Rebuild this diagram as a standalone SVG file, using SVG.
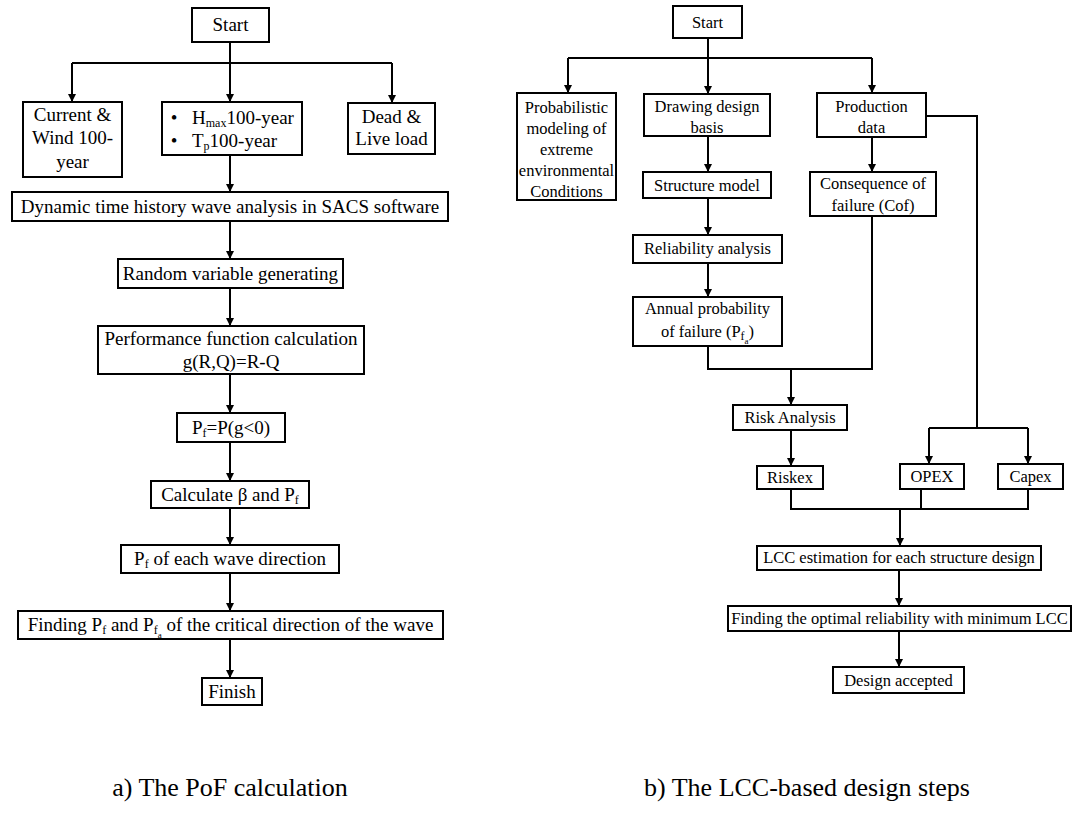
<svg xmlns="http://www.w3.org/2000/svg" width="1083" height="815" viewBox="0 0 1083 815">
<style>
.box{fill:#fff;stroke:#000;stroke-width:2}
.t{font-family:"Liberation Serif","Times New Roman",serif;font-size:19px;text-anchor:middle;fill:#000}
.r{font-size:16.5px}
.s{font-size:12px}
.ss{font-size:9px}
.cap{font-family:"Liberation Serif","Times New Roman",serif;font-size:26px;text-anchor:middle;fill:#000}
#connectors path{fill:none;stroke:#000;stroke-width:2}
</style>
<defs>
<marker id="ah" markerUnits="userSpaceOnUse" markerWidth="8" markerHeight="8" refX="8" refY="4" orient="auto">
<path d="M0,0 L8,4 L0,8 z" fill="#000"/>
</marker>
</defs>
<rect width="1083" height="815" fill="#fff"/>
<g id="connectors">
<path d="M230,42 V102" marker-end="url(#ah)"/>
<path d="M72,63 H392"/>
<path d="M72,63 V102" marker-end="url(#ah)"/>
<path d="M392,63 V103" marker-end="url(#ah)"/>
<path d="M230,155 V192" marker-end="url(#ah)"/>
<path d="M230,221 V259" marker-end="url(#ah)"/>
<path d="M230,288 V326" marker-end="url(#ah)"/>
<path d="M230,374 V413" marker-end="url(#ah)"/>
<path d="M230,442 V481" marker-end="url(#ah)"/>
<path d="M230,508 V545" marker-end="url(#ah)"/>
<path d="M230,573 V611" marker-end="url(#ah)"/>
<path d="M230,639 V678" marker-end="url(#ah)"/>
<path d="M708,38 V94" marker-end="url(#ah)"/>
<path d="M568,58 H872"/>
<path d="M568,58 V93" marker-end="url(#ah)"/>
<path d="M872,58 V93" marker-end="url(#ah)"/>
<path d="M708,136 V172" marker-end="url(#ah)"/>
<path d="M708,198 V235" marker-end="url(#ah)"/>
<path d="M708,263 V297" marker-end="url(#ah)"/>
<path d="M708,346 V369 H872 V216"/>
<path d="M791,369 V405" marker-end="url(#ah)"/>
<path d="M872,137 V172" marker-end="url(#ah)"/>
<path d="M926,116 H977 V428"/>
<path d="M929,428 H1028"/>
<path d="M929,428 V464" marker-end="url(#ah)"/>
<path d="M1028,428 V464" marker-end="url(#ah)"/>
<path d="M791,430 V466" marker-end="url(#ah)"/>
<path d="M791,489 V509 H1028 V489"/>
<path d="M921,489 V509"/>
<path d="M900,509 V546" marker-end="url(#ah)"/>
<path d="M899,570 V606" marker-end="url(#ah)"/>
<path d="M899,631 V667" marker-end="url(#ah)"/>
</g>

<g id="a_start"><rect class="box" x="192" y="8" width="77" height="34"/><text class="t" x="230.5" y="31">Start</text></g>
<g id="a_current"><rect class="box" x="23" y="102" width="99" height="75"/>
<text class="t" x="72.5" y="121">Current &amp;</text><text class="t" x="72.5" y="144">Wind 100-</text><text class="t" x="72.5" y="168">year</text></g>
<g id="a_hmax"><rect class="box" x="162" y="102" width="140" height="53"/>
<text class="t" x="174" y="124">•</text><text class="t" x="192" y="124" style="text-anchor:start">H<tspan class="s" dy="3">max</tspan><tspan dy="-3">100-year</tspan></text>
<text class="t" x="174" y="147">•</text><text class="t" x="192" y="147" style="text-anchor:start">T<tspan class="s" dy="3">p</tspan><tspan dy="-3">100-year</tspan></text></g>
<g id="a_dead"><rect class="box" x="348" y="103" width="87" height="51"/>
<text class="t" x="391.5" y="123">Dead &amp;</text><text class="t" x="391.5" y="145">Live load</text></g>
<g id="a_sacs"><rect class="box" x="12" y="192" width="436" height="29"/>
<text class="t" x="230" y="213">Dynamic time history wave analysis in SACS software</text></g>
<g id="a_random"><rect class="box" x="118" y="259" width="225" height="29"/>
<text class="t" x="230.5" y="280">Random variable generating</text></g>
<g id="a_perf"><rect class="box" x="98" y="326" width="266" height="48"/>
<text class="t" x="231" y="345">Performance function calculation</text><text class="t" x="231" y="368">g(R,Q)=R-Q</text></g>
<g id="a_pf"><rect class="box" x="177" y="413" width="108" height="29"/>
<text class="t" x="231" y="434">P<tspan class="s" dy="3">f</tspan><tspan dy="-3">=P(g&lt;0)</tspan></text></g>
<g id="a_calc"><rect class="box" x="151" y="481" width="158" height="27"/>
<text class="t" x="230" y="501">Calculate β and P<tspan class="s" dy="3">f</tspan></text></g>
<g id="a_each"><rect class="box" x="121" y="545" width="218" height="28"/>
<text class="t" x="230" y="565">P<tspan class="s" dy="3">f</tspan><tspan dy="-3"> of each wave direction</tspan></text></g>
<g id="a_finding"><rect class="box" x="18" y="611" width="425" height="28"/>
<text class="t" x="230.5" y="631">Finding P<tspan class="s" dy="3">f</tspan><tspan dy="-3"> and P</tspan><tspan class="s" dy="3">f</tspan><tspan class="ss" dy="4">a</tspan><tspan dy="-7">  of the critical direction of the wave</tspan></text></g>
<g id="a_finish"><rect class="box" x="202" y="678" width="60" height="27"/>
<text class="t" x="232" y="698">Finish</text></g>

<g id="b_start"><rect class="box" x="673" y="6" width="69" height="32"/><text class="t r" x="707.5" y="28">Start</text></g>
<g id="b_prob"><rect class="box" x="517" y="93" width="99" height="107"/>
<text class="t r" x="566.5" y="112.5">Probabilistic</text><text class="t r" x="566.5" y="133.5">modeling of</text><text class="t r" x="566.5" y="154.5">extreme</text><text class="t r" x="566.5" y="175.5">environmental</text><text class="t r" x="566.5" y="197">Conditions</text></g>
<g id="b_draw"><rect class="box" x="644" y="94" width="126" height="42"/>
<text class="t r" x="707" y="111.5">Drawing design</text><text class="t r" x="707" y="132.5">basis</text></g>
<g id="b_struct"><rect class="box" x="643" y="172" width="128" height="26"/>
<text class="t r" x="707" y="191">Structure model</text></g>
<g id="b_prod"><rect class="box" x="817" y="93" width="109" height="44"/>
<text class="t r" x="871.5" y="111.5">Production</text><text class="t r" x="871.5" y="132.5">data</text></g>
<g id="b_cof"><rect class="box" x="810" y="172" width="126" height="44"/>
<text class="t r" x="873" y="188.5">Consequence of</text><text class="t r" x="873" y="210.5">failure (Cof)</text></g>
<g id="b_rel"><rect class="box" x="633" y="235" width="149" height="28"/>
<text class="t r" x="707.5" y="254">Reliability analysis</text></g>
<g id="b_annual"><rect class="box" x="633" y="297" width="149" height="49"/>
<text class="t r" x="707.5" y="314">Annual probability</text><text class="t r" x="707.5" y="337">of failure (P<tspan class="s" dy="3">f</tspan><tspan class="ss" dy="4">a</tspan><tspan dy="-7">)</tspan></text></g>
<g id="b_risk"><rect class="box" x="733" y="405" width="114" height="25"/>
<text class="t r" x="790" y="423">Risk Analysis</text></g>
<g id="b_riskex"><rect class="box" x="757" y="466" width="66" height="23"/>
<text class="t r" x="790" y="483">Riskex</text></g>
<g id="b_opex"><rect class="box" x="900" y="464" width="64" height="25"/>
<text class="t r" x="932" y="482">OPEX</text></g>
<g id="b_capex"><rect class="box" x="998" y="464" width="65" height="25"/>
<text class="t r" x="1030.5" y="482">Capex</text></g>
<g id="b_lcc"><rect class="box" x="757" y="546" width="284" height="24"/>
<text class="t r" x="899" y="563">LCC estimation for each structure design</text></g>
<g id="b_opt"><rect class="box" x="728" y="606" width="343" height="25"/>
<text class="t r" x="899.5" y="624">Finding the optimal reliability with minimum LCC</text></g>
<g id="b_acc"><rect class="box" x="833" y="667" width="131" height="26"/>
<text class="t r" x="898.5" y="686">Design accepted</text></g>

<text class="cap" x="230" y="796">a) The PoF calculation</text>
<text class="cap" x="807" y="796">b) The LCC-based design steps</text>
</svg>
